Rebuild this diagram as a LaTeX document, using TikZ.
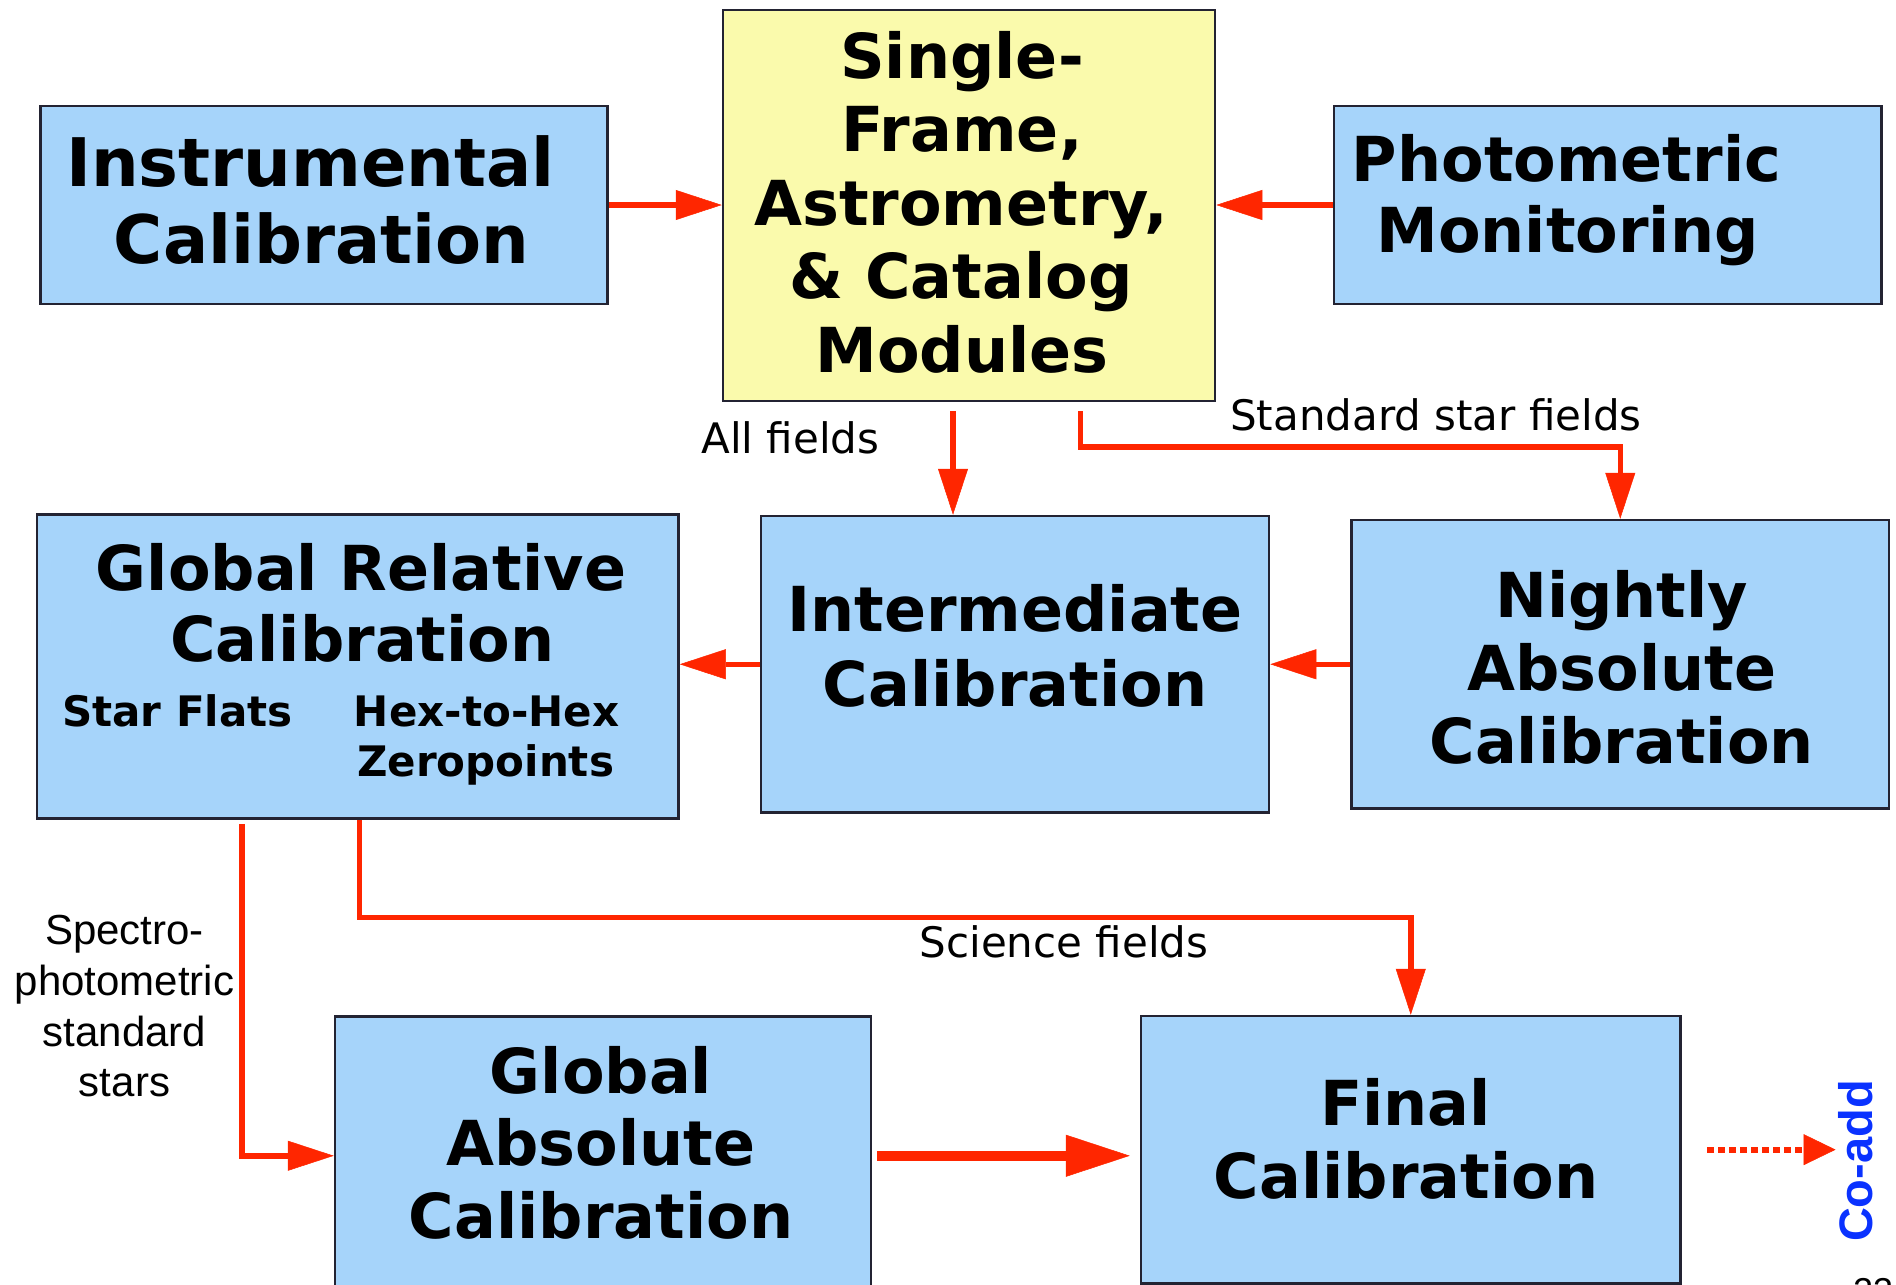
\documentclass[tikz,border=0pt]{standalone}
\usepackage{fontspec}
\newfontfamily\dejavu{DejaVu Sans}
\newfontfamily\arialfont{Liberation Sans}
\usetikzlibrary{arrows.meta,calc}
\definecolor{boxblue}{RGB}{166,212,250}
\definecolor{boxyellow}{RGB}{250,250,172}
\definecolor{boxline}{RGB}{35,35,50}
\definecolor{arrred}{RGB}{255,38,0}
\definecolor{coblue}{RGB}{10,50,255}
\begin{document}
\begin{tikzpicture}[x=1pt,y=-1pt,
  cbox/.style={draw=boxline,line width=2.5pt,fill=boxblue,rectangle,inner sep=0pt},
  ycbox/.style={cbox,fill=boxyellow},
  btext/.style={font=\dejavu\bfseries\fontsize{62}{72}\selectfont,anchor=base,inner sep=0pt},
  btextL/.style={font=\dejavu\bfseries\fontsize{67}{77}\selectfont,anchor=base,inner sep=0pt},
  bsub/.style={font=\dejavu\bfseries\fontsize{42}{50}\selectfont,anchor=base,inner sep=0pt},
  ltext/.style={font=\dejavu\fontsize{42}{50}\selectfont,anchor=base,inner sep=0pt},
  atext/.style={font=\arialfont\fontsize{42}{51}\selectfont,anchor=base,inner sep=0pt},
  redarr/.style={draw=arrred,line width=5.5pt,-{Triangle[length=46pt,width=30pt,line width=0.5pt]}},
  thickarr/.style={draw=arrred,line width=10pt,-{Triangle[length=64pt,width=42pt,line width=0.5pt]}},
  dotarr/.style={draw=arrred,line width=6pt,dash pattern=on 6.5pt off 4.5pt,-{Triangle[length=32pt,width=31pt,line width=0.5pt]}}
]
\useasboundingbox (0,0) rectangle (1896,1285);

% boxes
\node[cbox,minimum width=567pt,minimum height=198pt] (instr) at (324,205) {};
\node[ycbox,minimum width=492pt,minimum height=391pt] (single) at (969,205.5) {};
\node[cbox,minimum width=547.5pt,minimum height=198pt] (photo) at (1607.7,205) {};
\node[cbox,minimum width=641.5pt,minimum height=304pt] (grel) at (357.75,666.5) {};
\node[cbox,minimum width=508pt,minimum height=296.5pt] (inter) at (1015,664.25) {};
\node[cbox,minimum width=537.5pt,minimum height=288.5pt] (night) at (1620.25,664.25) {};
\node[cbox,minimum width=536pt,minimum height=278.5pt] (gabs) at (603,1155.75) {};
\node[cbox,minimum width=539.5pt,minimum height=267.3pt] (final) at (1410.75,1149.65) {};

% box texts
\node[btextL] (instr1) at (310.3,186.7) {Instrumental};
\node[btextL] (instr2) at (321.6,263.3) {Calibration};

\node[btext] (sing1) at (962,78) {Single-};
\node[btext] (sing2) at (962,151.6) {Frame,};
\node[btext] (sing3) at (961,225.2) {Astrometry,};
\node[btext] (sing4) at (961,298.8) {\& Catalog};
\node[btext] (sing5) at (962,372.4) {Modules};

\node[btext] (phot1) at (1566.5,181) {Photometric};
\node[btext] (phot2) at (1567.5,252) {Monitoring};

\node[btext] (grel1) at (361,590) {Global Relative};
\node[btext] (grel2) at (362.3,661.7) {Calibration};
\node[bsub] (grel3) at (177.5,726.7) {Star Flats};
\node[bsub] (grel4) at (486.6,726.7) {Hex-to-Hex};
\node[bsub] (grel5) at (485.6,776.7) {Zeropoints};

\node[btext] (inter1) at (1015,631.7) {Intermediate};
\node[btext] (inter2) at (1015,706) {Calibration};

\node[btext] (night1) at (1621.7,617.7) {Nightly};
\node[btext] (night2) at (1621.7,690.5) {Absolute};
\node[btext] (night3) at (1621.7,763.3) {Calibration};

\node[btext] (gabs1) at (601,1093.3) {Global};
\node[btext] (gabs2) at (601,1165.6) {Absolute};
\node[btext] (gabs3) at (601,1238.3) {Calibration};

\node[btext] (fin1) at (1405.5,1125.7) {Final};
\node[btext] (fin2) at (1406,1198.3) {Calibration};

% labels
\node[ltext] (allf) at (790.5,453) {All fields};
\node[ltext] (stdf) at (1436,430) {Standard star fields};
\node[ltext] (scif) at (1064,957.7) {Science fields};
\node[atext] (sp1) at (124.5,944) {Spectro-};
\node[atext] (sp2) at (124.5,995) {photometric};
\node[atext] (sp3) at (124.5,1046.7) {standard};
\node[atext] (sp4) at (124.5,1096.7) {stars};

\node[font=\arialfont\bfseries\fontsize{47}{52}\selectfont,text=coblue,rotate=90,inner sep=0pt] (coadd) at (1856,1161) {Co-add};
\node[font=\arialfont\fontsize{36}{40}\selectfont,anchor=base west,inner sep=0pt] (pagenum) at (1853,1303) {23};

% connectors
\coordinate (af) at (953,411);
\coordinate (sf) at (1080.5,411);
\draw[redarr] (instr.east) -- (instr.east -| single.west);
\draw[redarr] (photo.west) -- (photo.west -| single.east);
\draw[redarr] (af) -- (af |- inter.north);
\draw[redarr] (sf) |- ($(night.north)+(0,-72)$) -- (night.north);
\draw[redarr] (inter.west) -- (inter.west -| grel.east);
\draw[redarr] (night.west) -- (night.west -| inter.east);
\draw[redarr] ($(grel.south)+(1.75,0)$) -- ++(0,97.5) -| (final.north);
\draw[redarr] ($(grel.south west)+(206,4)$) |- (gabs.west);
\draw[thickarr] ($(gabs.east)+(5,0)$) -- ($(gabs.east -| final.west)+(-10,0)$);
\draw[dotarr] ($(final.east)+(25.5,0)$) -- ($(final.east -| coadd.north)+(-3,0)$);
\end{tikzpicture}
\end{document}
